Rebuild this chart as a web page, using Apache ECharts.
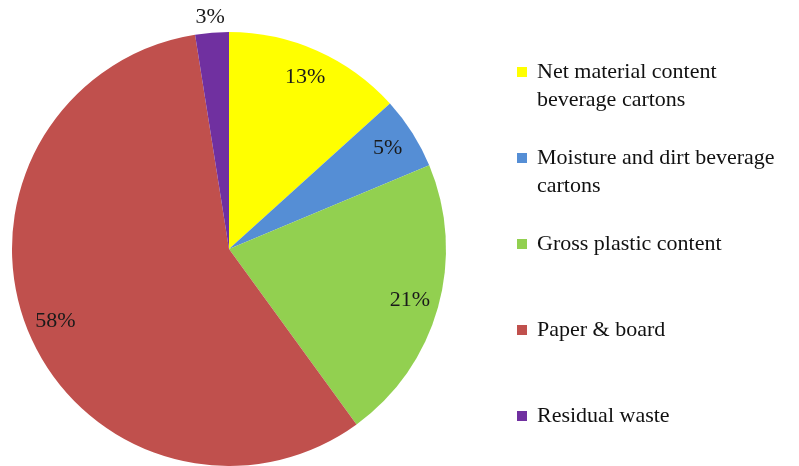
<!DOCTYPE html>
<html><head><meta charset="utf-8">
<script src="https://cdn.jsdelivr.net/npm/echarts@6/dist/echarts.min.js"></script>
<style>html,body{margin:0;padding:0;background:#fff}#c{width:799px;height:466px}</style>
</head><body><div id="c"></div>
<script>
const categories = ['Net material content beverage cartons','Moisture and dirt beverage cartons','Gross plastic content','Paper & board','Residual waste'];
const legendLines = [['Net material content','beverage cartons'],['Moisture and dirt beverage','cartons'],['Gross plastic content'],['Paper & board'],['Residual waste']];
const values = [13.3, 5.4, 21.3, 57.5, 2.5];
const percentLabels = ['13%','5%','21%','58%','3%'];
const colors = ['#FFFF00','#558ED5','#92D050','#C0504D','#7030A0'];

const chart = echarts.init(document.getElementById('c'), null, {renderer:'canvas'});
const font = '"Liberation Serif", "DejaVu Serif", serif';
const pieData = categories.map((n,i)=>({name:n, value:values[i], itemStyle:{color:colors[i]}}));
const labelData = categories.map((n,i)=>({
  name:n, value:values[i],
  label: i===4 ? {offset:[-4,-44]} : {}
}));
function legendFmt(n){
  const lines = legendLines[categories.indexOf(n)];
  const parts = ['{e|}'].concat(lines.map(l=>'{t|'+l+'}'));
  if(lines.length===1) parts.push('{e|}');
  return parts.join('\n');
}
chart.setOption({
  animation:false,
  legend:{
    orient:'vertical', left:517, top:30, padding:0, itemGap:2,
    itemWidth:10, itemHeight:10, icon:'rect', selectedMode:false,
    formatter: legendFmt,
    textStyle:{fontFamily:font, fontSize:22, color:'#111', padding:[0,0,0,5],
      rich:{
        t:{fontFamily:font, fontSize:22, color:'#111', lineHeight:28, height:28},
        e:{fontSize:22, lineHeight:28, height:28}
      }},
    data: categories
  },
  series:[
    {type:'pie', center:[229,249], radius:[0,217], startAngle:90, clockwise:true,
     silent:true, label:{show:false}, labelLine:{show:false}, data:pieData},
    {type:'pie', center:[229,249], radius:[153,217], startAngle:90, clockwise:true,
     silent:true, legendHoverLink:false,
     itemStyle:{color:'rgba(0,0,0,0)'},
     label:{show:true, position:'inside', fontFamily:font, fontSize:22, color:'#1a1a1a',
       formatter:p=>percentLabels[p.dataIndex]},
     labelLine:{show:false},
     data:labelData}
  ]
});
</script></body></html>
